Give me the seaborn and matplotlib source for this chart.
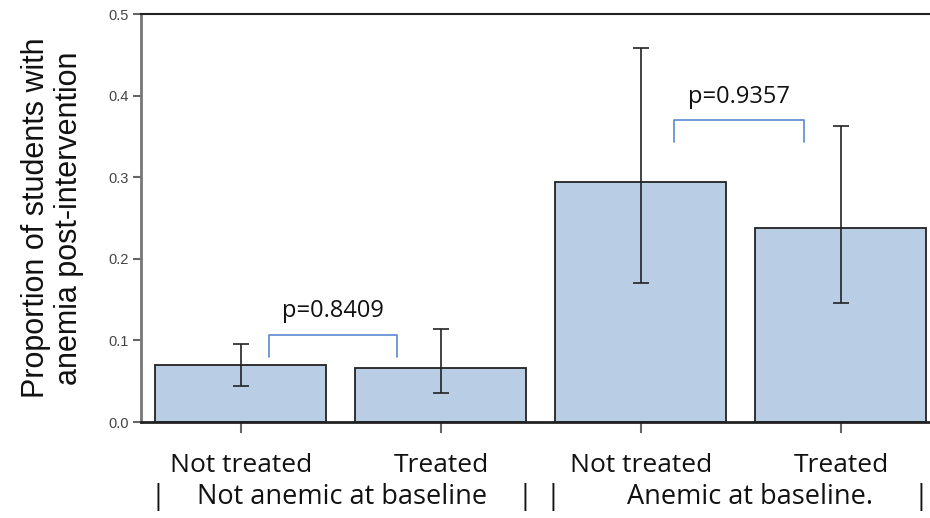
import matplotlib
matplotlib.use("Agg")
import matplotlib.pyplot as plt
import seaborn as sns
import pandas as pd

# data
bar_keys = ["na_nt", "na_t", "a_nt", "a_t"]
tick_labels = ["Not treated", "Treated", "Not treated", "Treated"]
proportions = [0.070, 0.066, 0.294, 0.238]
ci_low = [0.044, 0.036, 0.170, 0.146]
ci_high = [0.095, 0.114, 0.458, 0.363]

group_labels = ["Not anemic at baseline", "Anemic at baseline."]
group_centers = [0.505, 2.545]
group_bars = [-0.415, 1.42, 1.56, 3.40]

p_labels = ["p=0.8409", "p=0.9357"]
bracket_left = [0.14, 2.165]
bracket_right = [0.78, 2.815]
bracket_foot = [0.080, 0.343]
bracket_top = [0.107, 0.370]

df = pd.DataFrame({"key": bar_keys, "prop": proportions})

sns.set_style("white")
plt.rcParams["font.family"] = ["Liberation Sans", "DejaVu Sans"]

fig = plt.figure(figsize=(9.3, 5.18), dpi=100)
ax = fig.add_axes([0.1516, 0.1853, 0.8484, 0.7876])

sns.barplot(data=df, x="key", y="prop", order=bar_keys, color="#b9cde5",
            saturation=1, width=0.855, edgecolor="#222222", linewidth=1.3,
            errorbar=None, ax=ax)

yerr = [[p - lo for p, lo in zip(proportions, ci_low)],
        [hi - p for p, hi in zip(proportions, ci_high)]]
ax.errorbar(range(len(bar_keys)), proportions, yerr=yerr, fmt="none",
            ecolor="#222222", elinewidth=1.2, capsize=6, capthick=1.2)

for lab, x0, x1, yf, yt in zip(p_labels, bracket_left, bracket_right,
                               bracket_foot, bracket_top):
    ax.plot([x0, x0, x1, x1], [yf, yt, yt, yf], color="#5b87d2", lw=1.2,
            solid_joinstyle="round")
    ax.text((x0 + x1) / 2, yt + 0.014, lab, ha="center", va="bottom",
            fontsize=17, family="Open Sans", color="#111111")

ax.set_xlim(-0.5, 3.445)
ax.set_ylim(0, 0.5)
ax.set_yticks([0.0, 0.1, 0.2, 0.3, 0.4, 0.5])
ax.set_yticklabels(["0.0", "0.1", "0.2", "0.3", "0.4", "0.5"])
ax.set_xticks(range(len(bar_keys)))
ax.set_xticklabels(tick_labels, family="Open Sans", fontsize=19, color="#111111")
ax.tick_params(axis="y", labelsize=10.5, labelcolor="#444444", length=6,
               width=1.5, color="#666666", left=True, pad=3)
ax.tick_params(axis="x", length=8, width=1.5, color="#666666", bottom=True, pad=14)

ax.set_xlabel("")
ax.set_ylabel("Proportion of students with\nanemia post-intervention",
              fontsize=22, color="#111111", labelpad=17, linespacing=1.15)

ax.spines["right"].set_visible(False)
ax.spines["left"].set_color("#777777")
ax.spines["left"].set_linewidth(2)
ax.spines["bottom"].set_color("#222222")
ax.spines["bottom"].set_linewidth(2)
ax.spines["top"].set_color("#222222")
ax.spines["top"].set_linewidth(1.5)

tr = ax.get_xaxis_transform()
for lab, cx in zip(group_labels, group_centers):
    ax.text(cx, -0.185, lab, transform=tr, ha="center", va="center",
            fontsize=19.5, family="Open Sans", color="#111111")
for bx in group_bars:
    ax.text(bx, -0.185, "|", transform=tr, ha="center", va="center",
            fontsize=19.5, family="Open Sans", color="#111111")

fig.savefig("out.png", dpi=100)
